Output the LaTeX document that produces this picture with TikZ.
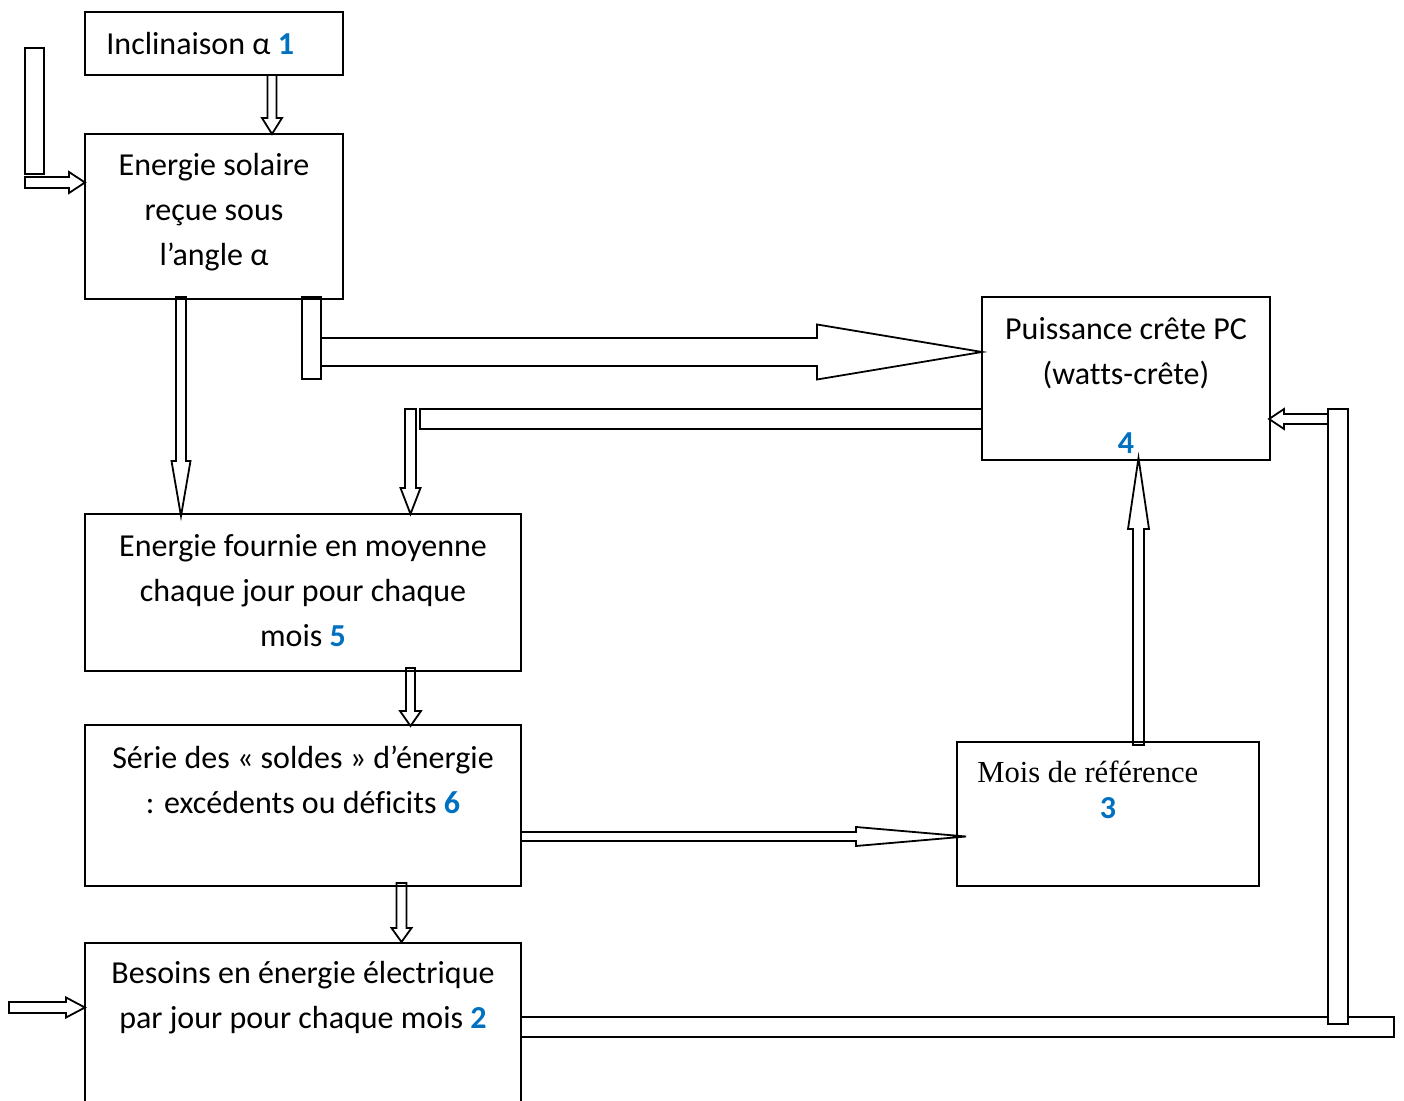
\documentclass[tikz,border=0pt]{standalone}
\usepackage{fontspec}
\setmainfont{Carlito}[Ligatures=NoCommon]
\newfontfamily\serifrm{Liberation Serif}
\definecolor{numblue}{RGB}{0,112,192}
\newcommand\num[1]{\textbf{\color{numblue}#1}}
% vertical block arrow: x, ystart, ybase, ytip, shaft half, head half
\newcommand\blkvert[6]{\draw[blk] ({#1-#5},#2) -- ({#1-#5},#3) -- ({#1-#6},#3) -- (#1,#4) -- ({#1+#6},#3) -- ({#1+#5},#3) -- ({#1+#5},#2) -- cycle;}
% horizontal block arrow: y, xstart, xbase, xtip, shaft half, head half
\newcommand\blkhoriz[6]{\draw[blk] (#2,{#1-#5}) -- (#3,{#1-#5}) -- (#3,{#1-#6}) -- (#4,#1) -- (#3,{#1+#6}) -- (#3,{#1+#5}) -- (#2,{#1+#5}) -- cycle;}
\tikzset{
  box/.style={draw, line width=1pt, rectangle, inner sep=0pt, outer sep=0pt},
  blk/.style={draw, fill=white, line width=0.9pt, line join=miter},
  txt/.style={font=\fontsize{16}{22.5}\selectfont, align=center, inner sep=0pt},
}
\begin{document}
\begin{tikzpicture}[x=0.5pt, y=-0.5pt]
\useasboundingbox (0,0) rectangle (1404,1101);
\clip (0,0) rectangle (1404,1101);
% ---- block arrows ----
\blkvert{272}{75}{118}{134}{4.5}{10}
\draw[blk] (25,48) rectangle (44,174);
\blkhoriz{182.5}{25}{69}{85}{5.5}{10.5}
\blkvert{181}{297}{461}{516}{5}{9.5}
\blkhoriz{352}{321}{817}{982}{14}{27.5}
\draw[blk] (302,297) rectangle (321,379);
\draw[blk] (420,409) rectangle (982,429);
\blkvert{410.5}{409}{488}{514}{5.5}{10}
\blkvert{410.5}{668}{711}{726}{4.5}{10.5}
\blkvert{401.5}{883}{928}{942}{5}{10}
\blkhoriz{1007.5}{9}{66}{85}{5.5}{10}
\draw[blk] (521,1017) rectangle (1394,1037);
\draw[blk] (1328,409) rectangle (1348,1024);
\blkhoriz{419}{1328}{1284}{1269}{5}{10}
\blkvert{1138.5}{745}{529}{458}{5.5}{10.5}
\blkhoriz{836.5}{521}{856}{966}{4.5}{9.5}
% ---- boxes ----
\node[box, minimum width=129pt, minimum height=31.5pt] (incl) at (214,43.5) {};
\node[box, minimum width=129pt, minimum height=82.5pt] (solar) at (214,216.5) {};
\node[box, minimum width=144pt, minimum height=81.5pt] (pc) at (1126,378.5) {};
\node[box, minimum width=218pt, minimum height=78.5pt] (four) at (303,592.5) {};
\node[box, minimum width=218pt, minimum height=80.5pt] (solde) at (303,805.5) {};
\node[box, minimum width=151pt, minimum height=72pt] (ref) at (1108,814) {};
\node[box, minimum width=218pt, minimum height=90pt] (bes) at (303,1033) {};
% ---- texts ----
\node[txt, anchor=west] (tincl) at (106,44) {Inclinaison α \num{1}};
\node[txt] (tsolar) at (214,212) {Energie solaire\\reçue sous\\l’angle α};
\node[txt] (tpc) at (1126,353) {Puissance crête PC\\(watts-crête)};
\node[txt] (tpc4) at (1126,443) {\num{4}};
\node[txt] (tfour) at (303,591) {Energie fournie en moyenne\\chaque jour pour chaque\\mois \num{5}};
\node[txt] (tsolde) at (303,780) {Série des «~soldes~» d’énergie\\: excédents ou déficits \num{6}};
\node[txt, anchor=west, font=\serifrm\fontsize{15.3}{18}\selectfont] (tref) at (977,772) {Mois de référence};
\node[txt] (tref3) at (1108,808) {\num{3}};
\node[txt] (tbes) at (303,998) {Besoins en énergie électrique\\par jour pour chaque mois \num{2}};
\end{tikzpicture}
\end{document}
